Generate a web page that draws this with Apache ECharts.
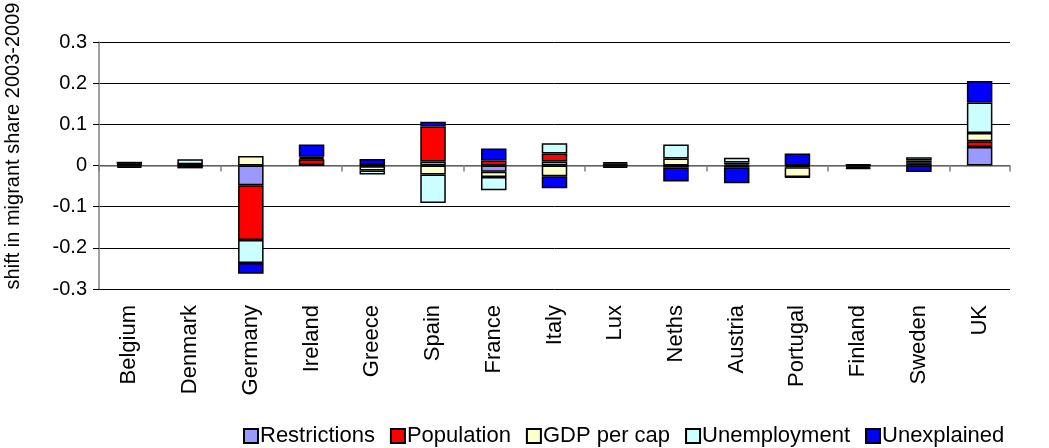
<!DOCTYPE html>
<html>
<head>
<meta charset="utf-8">
<script src="https://cdn.jsdelivr.net/npm/echarts@6/dist/echarts.min.js"></script>
<style>
  html, body { margin: 0; padding: 0; background: #fff; }
  #chart { width: 1049px; height: 448px; }
</style>
</head>
<body>
<div id="chart"></div>
<script>
// Countries along the category axis
const countries = ['Belgium', 'Denmark', 'Germany', 'Ireland', 'Greece', 'Spain', 'France',
  'Italy', 'Lux', 'Neths', 'Austria', 'Portugal', 'Finland', 'Sweden', 'UK'];

// Decomposition of the shift in migrant share, 2003-2009
const restrictions = [0.002, 0.001, -0.048, 0.001, -0.002, 0.010, -0.015, 0.010, 0.002, -0.001, 0.003, -0.001, 0.001, 0.004, 0.045];
const population   = [-0.003, 0.001, -0.133, 0.014, 0.001, 0.085, 0.012, 0.019, -0.003, -0.004, -0.004, -0.003, -0.003, 0.004, 0.014];
const gdpPerCap    = [-0.003, 0.001, 0.023, 0.003, -0.010, -0.022, -0.013, -0.026, -0.003, 0.017, 0.004, -0.024, -0.003, 0.004, 0.020];
const unemployment = [0.002, 0.012, -0.056, 0.003, -0.010, -0.069, -0.032, 0.025, 0.003, 0.034, 0.012, -0.001, 0.002, 0.008, 0.074];
const unexplained  = [0.005, -0.007, -0.026, 0.030, 0.015, 0.011, 0.029, -0.029, 0.003, -0.034, -0.039, 0.029, -0.002, -0.016, 0.052];

// Value axis ticks
const yTicks = [-0.3, -0.2, -0.1, 0, 0.1, 0.2, 0.3];

const FONT = '"Liberation Sans", Arial, sans-serif';

const seriesDefs = [
  { name: 'Restrictions', data: restrictions, color: '#9999FF' },
  { name: 'Population', data: population, color: '#FF0000' },
  { name: 'GDP per cap', data: gdpPerCap, color: '#FFFFCC' },
  { name: 'Unemployment', data: unemployment, color: '#CCFFFF' },
  { name: 'Unexplained', data: unexplained, color: '#0000FF' }
];

const chart = echarts.init(document.getElementById('chart'), null, { renderer: 'canvas' });

chart.setOption({
  animation: false,
  backgroundColor: '#ffffff',
  textStyle: { fontFamily: FONT, color: '#000' },
  grid: { left: 99, right: 39, top: 42, bottom: 159, containLabel: false },
  legend: {
    top: 420,
    left: 238,
    icon: 'rect',
    itemWidth: 14,
    itemHeight: 14,
    itemGap: 15,
    textStyle: { fontFamily: FONT, fontSize: 22, color: '#000', padding: [0, 0, 0, -3] },
    data: seriesDefs.map(s => s.name)
  },
  graphic: [{
    // rotated value-axis title
    type: 'text',
    x: 13,
    y: 146,
    rotation: Math.PI / 2,
    style: {
      text: 'shift in migrant share 2003-2009',
      font: '20px ' + FONT,
      fill: '#000',
      align: 'center',
      verticalAlign: 'middle'
    }
  }],
  xAxis: [
    {
      // category labels along the bottom of the plot
      type: 'category',
      data: countries,
      position: 'bottom',
      axisLine: { show: false, onZero: false },
      axisTick: { show: false },
      axisLabel: {
        rotate: 90,
        margin: 16,
        fontSize: 22,
        fontFamily: FONT,
        color: '#000',
        interval: 0
      }
    },
    {
      // axis line and ticks drawn through zero
      type: 'category',
      data: countries,
      position: 'bottom',
      axisLine: { show: true, onZero: true, lineStyle: { color: '#808080', width: 1.5 } },
      axisTick: { show: true, length: 6, lineStyle: { color: '#808080', width: 1.5 } },
      axisLabel: { show: false },
      splitLine: { show: false }
    }
  ],
  yAxis: {
    type: 'value',
    min: yTicks[0],
    max: yTicks[yTicks.length - 1],
    interval: 0.1,
    axisLine: { show: true, lineStyle: { color: '#808080', width: 1.5 } },
    axisTick: { show: true, length: 6, lineStyle: { color: '#000', width: 1 } },
    axisLabel: {
      margin: 12,
      fontSize: 20,
      fontFamily: FONT,
      color: '#000',
      formatter: v => String(+v.toFixed(1))
    },
    splitLine: { show: true, lineStyle: { color: '#000', width: 1 } }
  },
  series: seriesDefs.map(s => ({
    name: s.name,
    type: 'bar',
    stack: 'shift',
    xAxisIndex: 0,
    barWidth: '42%',
    data: s.data,
    itemStyle: { color: s.color, borderColor: '#000', borderWidth: 1.5 },
    emphasis: { disabled: true }
  }))
});
</script>
</body>
</html>
